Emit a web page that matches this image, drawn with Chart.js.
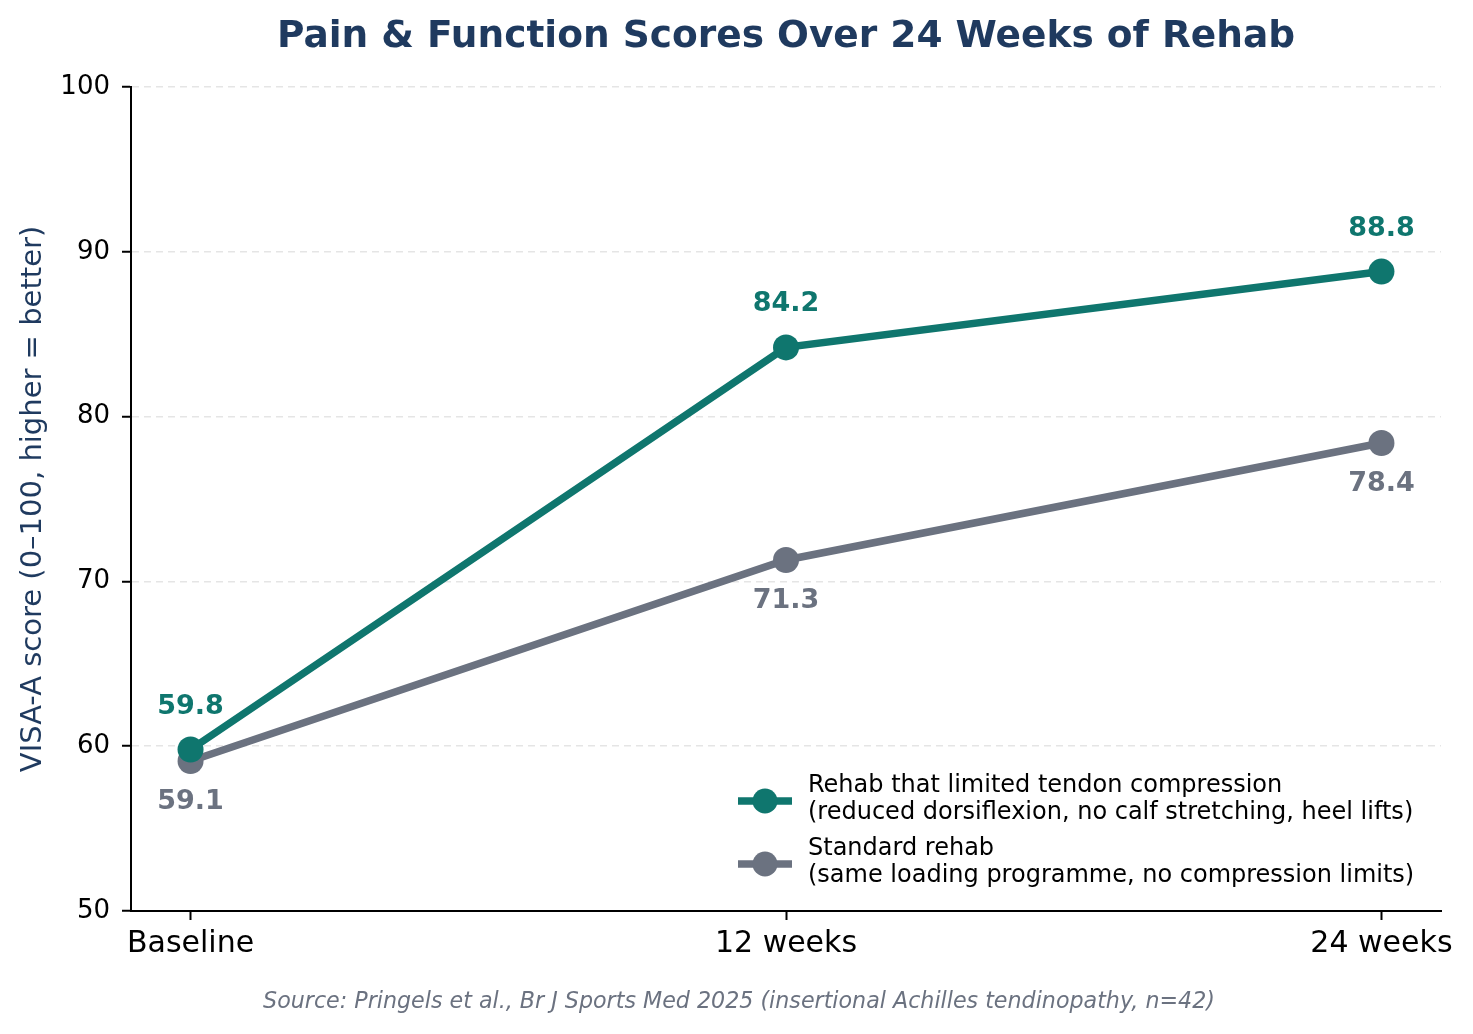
<!DOCTYPE html>
<html>
<head>
<meta charset="utf-8">
<script src="https://cdn.jsdelivr.net/npm/chart.js@4.4.1/dist/chart.umd.min.js"></script>
<style>
	html, body { margin: 0; padding: 0; background: #fff; }
	#wrap { width: 1473px; height: 1034px; }
</style>
</head>
<body>
<div id="wrap"><canvas id="myChart" width="1473" height="1034"></canvas></div>
<script>
!(function(){
	'use strict';

	var categories = ['Baseline', '12 weeks', '24 weeks'];
	var limitedCompression = [59.8, 84.2, 88.8];
	var standardRehab = [59.1, 71.3, 78.4];
	var yTicks = [50, 60, 70, 80, 90, 100];

	var seriesNames = [
		['Rehab that limited tendon compression', '(reduced dorsiflexion, no calf stretching, heel lifts)'],
		['Standard rehab', '(same loading programme, no compression limits)']
	];
	var teal = '#0f766e';
	var slate = '#6b7280';
	var navy = '#1f3a5f';
	var font = '"DejaVu Sans", sans-serif';

	function toPoints(arr){
		return arr.map(function(v, i){ return { x: i, y: v }; });
	}

	// value labels, legend, title and source note
	var extras = {
		id: 'extras',
		afterDatasetsDraw: function(chart){
			var ctx = chart.ctx;
			ctx.save();
			ctx.font = 'bold 27px ' + font;
			ctx.textAlign = 'center';
			ctx.textBaseline = 'middle';
			chart.data.datasets.forEach(function(ds, di){
				var meta = chart.getDatasetMeta(di);
				var off = di === 0 ? -43 : 41;
				ctx.fillStyle = ds.borderColor;
				meta.data.forEach(function(pt, i){
					ctx.fillText(ds.data[i].y.toFixed(1), pt.x, pt.y + off);
				});
			});
			ctx.restore();
		},
		afterDraw: function(chart){
			var ctx = chart.ctx;
			var area = chart.chartArea;
			ctx.save();

			// title
			ctx.fillStyle = navy;
			ctx.font = 'bold 37.5px ' + font;
			ctx.textAlign = 'center';
			ctx.textBaseline = 'middle';
			ctx.fillText('Pain & Function Scores Over 24 Weeks of Rehab', (area.left + area.right) / 2, 37);

			// source
			ctx.fillStyle = slate;
			ctx.font = 'italic 22.2px ' + font;
			ctx.fillText('Source: Pringels et al., Br J Sports Med 2025 (insertional Achilles tendinopathy, n=42)', 739, 1002);

			// legend
			var colors = [teal, slate];
			var rows = [801, 864];
			ctx.textAlign = 'left';
			ctx.font = '24px ' + font;
			for (var k = 0; k < 2; k++) {
				var y = rows[k];
				ctx.strokeStyle = colors[k];
				ctx.lineWidth = 7.5;
				ctx.beginPath();
				ctx.moveTo(738, y);
				ctx.lineTo(792, y);
				ctx.stroke();
				ctx.fillStyle = colors[k];
				ctx.beginPath();
				ctx.arc(765, y, 12.5, 0, Math.PI * 2);
				ctx.fill();
				ctx.fillStyle = '#000';
				ctx.fillText(seriesNames[k][0], 808, y - 15);
				ctx.fillText(seriesNames[k][1], 808, y + 12);
			}
			ctx.restore();
		}
	};

	var ctx = document.getElementById('myChart').getContext('2d');
	var myChart = new Chart(ctx, {
		type: 'line',
		data: {
			datasets: [{
				label: seriesNames[0].join(' '),
				data: toPoints(limitedCompression),
				borderColor: teal,
				backgroundColor: teal,
				borderWidth: 7.5,
				pointRadius: 13,
				pointHoverRadius: 13,
				pointBorderWidth: 0,
				tension: 0
			}, {
				label: seriesNames[1].join(' '),
				data: toPoints(standardRehab),
				borderColor: slate,
				backgroundColor: slate,
				borderWidth: 7.5,
				pointRadius: 13,
				pointHoverRadius: 13,
				pointBorderWidth: 0,
				tension: 0
			}]
		},
		options: {
			responsive: false,
			animation: false,
			devicePixelRatio: 1,
			layout: { padding: { top: 87, right: 32, bottom: 0, left: 0 } },
			plugins: {
				legend: { display: false },
				tooltip: { enabled: false },
				title: { display: false }
			},
			scales: {
				x: {
					type: 'linear',
					min: -0.1,
					max: 2.1,
					afterBuildTicks: function(scale){
						scale.ticks = categories.map(function(c, i){ return { value: i }; });
					},
					afterFit: function(scale){ scale.height = 123; },
					ticks: {
						color: '#000',
						font: { family: font, size: 30 },
						padding: 6,
						maxRotation: 0,
						callback: function(v){ return categories[v]; }
					},
					grid: {
						drawOnChartArea: false,
						drawTicks: true,
						tickLength: 9,
						tickColor: '#000',
						tickWidth: 2
					},
					border: { color: '#000', width: 2 }
				},
				y: {
					min: 50,
					max: 100,
					afterBuildTicks: function(scale){
						scale.ticks = yTicks.map(function(v){ return { value: v }; });
					},
					afterFit: function(scale){ scale.width = 131; },
					ticks: {
						color: '#000',
						font: { family: font, size: 26 },
						padding: 12
					},
					grid: {
						color: '#e5e5e5',
						lineWidth: 1.5,
						drawTicks: true,
						tickLength: 9,
						tickColor: '#000',
						tickWidth: 2,
						tickBorderDash: []
					},
					border: { color: '#000', width: 2, dash: [7, 5] },
					title: {
						display: true,
						text: 'VISA-A score (0\u2013100, higher = better)',
						color: navy,
						font: { family: font, size: 29 },
						padding: { top: 16, bottom: 0 }
					}
				}
			}
		},
		plugins: [extras]
	});
})();
</script>
</body>
</html>
